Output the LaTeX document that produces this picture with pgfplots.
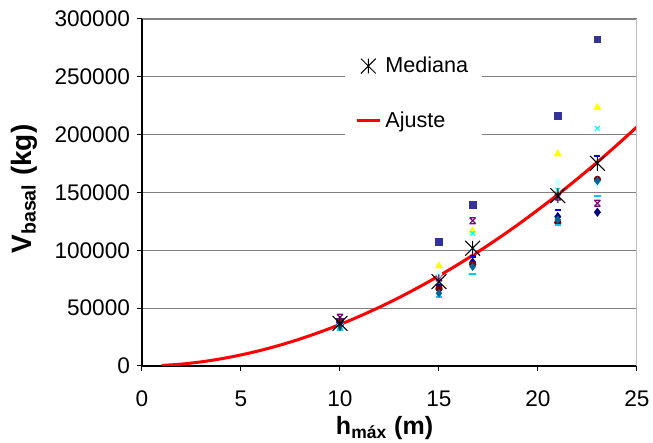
\documentclass[border=0pt]{standalone}
\usepackage{fontspec}
\setmainfont{Liberation Sans}
\usepackage{pgfplots}
\pgfplotsset{compat=1.18}
\definecolor{navyd}{HTML}{000080}
\definecolor{sqblue}{HTML}{333399}
\definecolor{yel}{HTML}{FFFF00}
\definecolor{cyx}{HTML}{00FFFF}
\definecolor{purp}{HTML}{800080}
\definecolor{brownc}{HTML}{800000}
\definecolor{lcyan}{HTML}{CCFFFF}
\definecolor{bluedash}{HTML}{0000FF}
\definecolor{cydash}{HTML}{00CCFF}
\definecolor{teald}{HTML}{006699}
\definecolor{gridgray}{HTML}{808080}
\pgfdeclareplotmark{exstar}{%
  \pgfpathmoveto{\pgfqpoint{-\pgfplotmarksize}{-\pgfplotmarksize}}%
  \pgfpathlineto{\pgfqpoint{\pgfplotmarksize}{\pgfplotmarksize}}%
  \pgfpathmoveto{\pgfqpoint{-\pgfplotmarksize}{\pgfplotmarksize}}%
  \pgfpathlineto{\pgfqpoint{\pgfplotmarksize}{-\pgfplotmarksize}}%
  \pgfpathmoveto{\pgfqpoint{0pt}{-\pgfplotmarksize}}%
  \pgfpathlineto{\pgfqpoint{0pt}{\pgfplotmarksize}}%
  \pgfusepathqstroke}
\pgfdeclareplotmark{hglass}{%
  \pgfpathmoveto{\pgfqpoint{-\pgfplotmarksize}{-\pgfplotmarksize}}%
  \pgfpathlineto{\pgfqpoint{\pgfplotmarksize}{\pgfplotmarksize}}%
  \pgfpathmoveto{\pgfqpoint{-\pgfplotmarksize}{\pgfplotmarksize}}%
  \pgfpathlineto{\pgfqpoint{\pgfplotmarksize}{-\pgfplotmarksize}}%
  \pgfpathmoveto{\pgfqpoint{-\pgfplotmarksize}{\pgfplotmarksize}}%
  \pgfpathlineto{\pgfqpoint{\pgfplotmarksize}{\pgfplotmarksize}}%
  \pgfpathmoveto{\pgfqpoint{-\pgfplotmarksize}{-\pgfplotmarksize}}%
  \pgfpathlineto{\pgfqpoint{\pgfplotmarksize}{-\pgfplotmarksize}}%
  \pgfusepathqstroke}
\pgfplotsset{
  lineleg/.style={legend image code/.code={\draw[##1] (0pt,0pt) -- (11.5pt,0pt);}},
  markleg/.style={legend image code/.code={\draw[##1] plot coordinates {(5.75pt,0pt)};}},
}
\begin{document}
\begin{tikzpicture}
\begin{axis}[
  scale only axis,
  width=247.5pt, height=173.5pt,
  at={(0,0)}, anchor=south west,
  xmin=0, xmax=25, ymin=0, ymax=300000,
  xtick={0,5,10,15,20,25},
  ytick={0,50000,100000,150000,200000,250000,300000},
  scaled y ticks=false,
  /pgf/number format/assume math mode=true,
  yticklabel style={/pgf/number format/fixed,/pgf/number format/1000 sep={}},
  xticklabel style={yshift=-6.5pt},
  axis lines=left,
  axis line style={-, black, line width=0.6pt},
  tick align=outside,
  major tick length=2.5pt,
  tick style={black, line width=0.5pt},
  ymajorgrids,
  grid style={gridgray, line width=0.6pt},
  ticklabel style={font=\fontsize{11.3}{13}\selectfont},
  xlabel={\textbf{h}\textsubscript{\textbf{máx}}\textbf{ (m)}},
  ylabel={\textbf{V}\textsubscript{\textbf{basal}}\textbf{ (kg)}},
  xlabel style={font=\fontsize{12.5}{14}\selectfont, at={(axis description cs:0.49,-0.178)}, anchor=center},
  ylabel style={font=\fontsize{14}{16}\selectfont, at={(axis description cs:-0.238,0.51)}, anchor=center},
  legend style={at={(axis description cs:0.41,0.95)}, anchor=north west,
    draw=none, fill=white, row sep=14pt, inner xsep=5pt, inner ysep=8pt,
    font=\fontsize{10.8}{12}\selectfont, legend cell align=left},
]
% individual series (no legend)
\addplot[forget plot, only marks, mark=diamond*, mark size=2pt, color=navyd]
  coordinates {(10,36500) (15,66000) (16.7,89700) (21,129100) (23,132900)};
\addplot[forget plot, only marks, mark=square*, mark size=1.7pt, color=sqblue]
  coordinates {(10,38000) (15,107000) (16.7,139200) (21,216100) (23,282400)};
\addplot[forget plot, only marks, mark=triangle*, mark size=2pt, color=yel]
  coordinates {(10,38500) (15,86500) (16.7,116700) (21,183300) (23,223300)};
\addplot[forget plot, only marks, mark=x, mark size=1.6pt, line width=0.6pt, color=cyx]
  coordinates {(10,33500) (15,78000) (16.7,114700) (21,152200) (23,205500)};
\addplot[forget plot, only marks, mark=hglass, mark size=1.5pt, line width=0.6pt, color=purp]
  coordinates {(10,42100) (15,76000) (16.7,125600) (21,146000) (23,140700)};
\addplot[forget plot, only marks, mark=*, mark size=1.6pt, color=brownc]
  coordinates {(10,37500) (15,67200) (16.7,87900) (21,124000) (23,161400)};
\addplot[forget plot, only marks, mark=diamond*, mark size=2pt, color=lcyan]
  coordinates {(10,35000) (15,79500) (16.7,100000) (21,158800) (23,158000)};
\addplot[forget plot, only marks, mark=-, mark size=1.5pt, line width=1.2pt, color=bluedash]
  coordinates {(10,37000) (15,70000) (16.7,94500) (21,134900) (23,181600)};
\addplot[forget plot, only marks, mark=-, mark size=1.6pt, line width=1.2pt, color=cydash]
  coordinates {(10,31700) (15,59400) (16.7,79500) (21,122000) (23,147200)};
\addplot[forget plot, only marks, mark=diamond*, mark size=1.8pt, color=teald]
  coordinates {(10,34500) (15,62800) (16.7,85800) (21,126500) (23,160000)};
% median
\addplot[only marks, mark=exstar, mark size=3.7pt, line width=0.5pt, color=black, markleg]
  coordinates {(10,36900) (15,72900) (16.7,101800) (21,147300) (23,175200)};
\addlegendentry{Mediana}
% fit
\addplot[red, line width=1.5pt, smooth, mark=none, lineleg]
  coordinates {(1,442) (2,1661) (3,3604) (4,6242) (5,9560) (6,13544) (7,18180)
  (8,23461) (9,29380) (10,35926) (11,43100) (12,50896) (13,59316) (14,68333)
  (15,77925) (16,88179) (17,98995) (18,110412) (19,122390) (20,135031)
  (21,148203) (22,161993) (23,176314) (24,191253) (25,206768)};
\addlegendentry{Ajuste}
\draw[gray!50, line width=0.8pt] (rel axis cs:1,0) -- (rel axis cs:1,1);
\end{axis}
\pgfresetboundingbox
\useasboundingbox (-71pt,-38.5pt) rectangle (255.5pt,183pt);
\end{tikzpicture}
\end{document}
